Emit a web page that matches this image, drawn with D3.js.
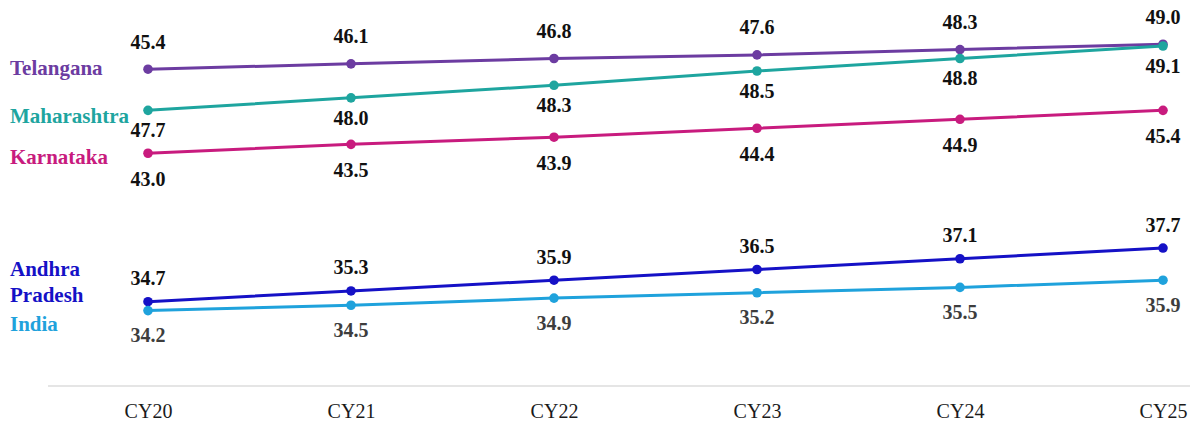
<!DOCTYPE html>
<html>
<head>
<meta charset="utf-8">
<script src="https://cdn.jsdelivr.net/npm/d3@7"></script>
<style>
  html, body { margin: 0; padding: 0; background: #fff; }
  svg { display: block; }
</style>
</head>
<body>
<svg id="chart" width="1190" height="421"></svg>
<script>
// Calendar years on the x axis
const years = ["CY20", "CY21", "CY22", "CY23", "CY24", "CY25"];

// Values per region
const telangana     = [45.4, 46.1, 46.8, 47.6, 48.3, 49.0];
const maharashtra   = [47.7, 48.0, 48.3, 48.5, 48.8, 49.1];
const karnataka     = [43.0, 43.5, 43.9, 44.4, 44.9, 45.4];
const andhraPradesh = [34.7, 35.3, 35.9, 36.5, 37.1, 37.7];
const india         = [34.2, 34.5, 34.9, 35.2, 35.5, 35.9];

// Each row: legend name (split into lines), colour, the series the line
// runs through, the series its value labels print, and label offsets.
const rows = [
  { name: ["Telangana"],          color: "#6c3ca1", line: maharashtra,   text: telangana,     labelDy: -20.5, nameDy: 6,   textColor: "#111" },
  { name: ["Maharashtra"],        color: "#1ea59f", line: telangana,     text: maharashtra,   labelDy: 27,    nameDy: 12.5, textColor: "#111" },
  { name: ["Karnataka"],          color: "#c81b7e", line: karnataka,     text: karnataka,     labelDy: 33,    nameDy: 10.5, textColor: "#111" },
  { name: ["Andhra", "Pradesh"],  color: "#1511c6", line: andhraPradesh, text: andhraPradesh, labelDy: -16.5, nameDy: -26, textColor: "#111" },
  { name: ["India"],              color: "#1fa2dc", line: india,         text: india,         labelDy: 31.5,  nameDy: 20,  textColor: "#3d3d3d" }
];

const svg = d3.select("#chart");
const serif = "'Liberation Serif', 'Times New Roman', serif";

const x = d3.scalePoint().domain(years).range([148, 1163]);
const y = d3.scaleLinear().domain([34, 50]).range([314.2, 28.1]);

// Baseline axis
svg.append("line")
  .attr("x1", 48).attr("x2", 1190)
  .attr("y1", 386).attr("y2", 386)
  .attr("stroke", "#dcdcdc").attr("stroke-width", 1.5);

const xAxis = svg.append("g")
  .attr("transform", "translate(0,386)")
  .call(d3.axisBottom(x).tickSize(0).tickPadding(0));
xAxis.select(".domain").remove();
xAxis.selectAll("text")
  .attr("dy", null)
  .attr("y", 32)
  .attr("font-family", serif)
  .attr("font-size", 20)
  .attr("fill", "#1a1a1a");

const lineGen = d3.line()
  .x((d, i) => x(years[i]))
  .y(d => y(d));

rows.forEach(r => {
  const g = svg.append("g");

  g.append("path")
    .datum(r.line)
    .attr("d", lineGen)
    .attr("fill", "none")
    .attr("stroke", r.color)
    .attr("stroke-width", 3);

  g.selectAll("circle")
    .data(r.line)
    .join("circle")
    .attr("cx", (d, i) => x(years[i]))
    .attr("cy", d => y(d))
    .attr("r", 4.8)
    .attr("fill", r.color);

  g.selectAll("text.val")
    .data(r.text)
    .join("text")
    .attr("class", "val")
    .attr("x", (d, i) => x(years[i]))
    .attr("y", (d, i) => y(r.line[i]) + r.labelDy)
    .attr("text-anchor", "middle")
    .attr("font-family", serif)
    .attr("font-weight", "bold")
    .attr("font-size", 20)
    .attr("fill", r.textColor)
    .text(d => d.toFixed(1));

  const nameY = y(r.line[0]) + r.nameDy;
  const label = g.append("text")
    .attr("x", 10)
    .attr("y", nameY)
    .attr("font-family", serif)
    .attr("font-weight", "bold")
    .attr("font-size", 21)
    .attr("fill", r.color);
  r.name.forEach((part, k) => {
    label.append("tspan")
      .attr("x", 10)
      .attr("dy", k === 0 ? 0 : 26)
      .text(part);
  });
});
</script>
</body>
</html>
